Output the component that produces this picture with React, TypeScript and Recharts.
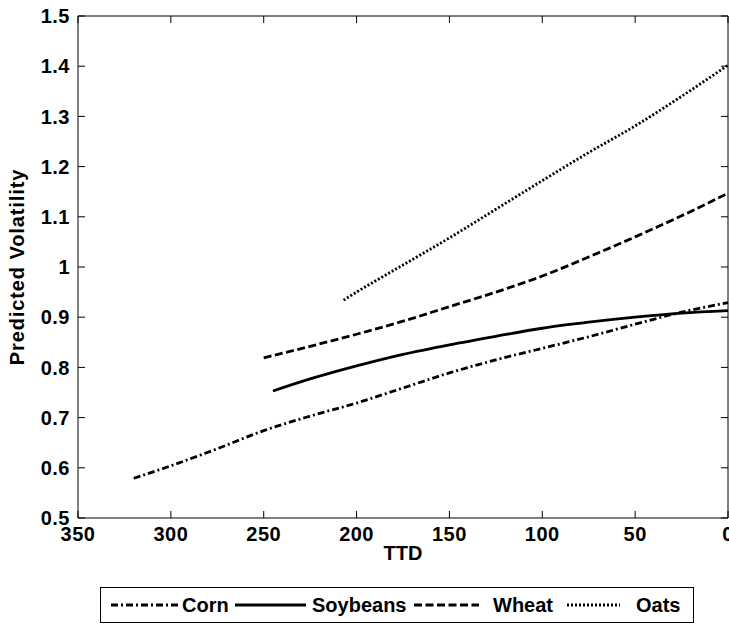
import { LineChart, Line, XAxis, YAxis, ReferenceLine } from 'recharts'

// values (TTD on x, predicted volatility on y)
const cornTTD = [320, 300, 275, 250, 225, 200, 175, 150, 125, 100, 75, 50, 25, 0]
const cornVol = [0.579, 0.604, 0.638, 0.674, 0.703, 0.729, 0.759, 0.789, 0.815, 0.838, 0.861, 0.886, 0.910, 0.929]

const soyTTD = [245, 225, 200, 175, 150, 125, 100, 75, 50, 25, 0]
const soyVol = [0.753, 0.777, 0.803, 0.826, 0.845, 0.862, 0.878, 0.890, 0.900, 0.908, 0.913]

const wheatTTD = [250, 225, 200, 175, 150, 125, 100, 75, 50, 25, 0]
const wheatVol = [0.819, 0.842, 0.866, 0.892, 0.921, 0.950, 0.982, 1.02, 1.06, 1.102, 1.147]

const oatsTTD = [207, 200, 175, 150, 125, 100, 75, 50, 25, 0]
const oatsVol = [0.934, 0.950, 1.004, 1.058, 1.115, 1.172, 1.228, 1.281, 1.340, 1.402]

const xTicks = [0, 50, 100, 150, 200, 250, 300, 350]
const yTicks = [0.5, 0.6, 0.7, 0.8, 0.9, 1, 1.1, 1.2, 1.3, 1.4, 1.5]

const X_MIN = 0
const X_MAX = 350
const Y_MIN = 0.5
const Y_MAX = 1.5
// inward tick length, in data units (about 7px on each axis)
const TICK_DX = 3.8
const TICK_DY = 0.014

const FONT = '"Liberation Sans", Arial, sans-serif'

function toRows(ttd: number[], vol: number[]) {
  return ttd.map((t, i) => ({ ttd: t, vol: vol[i] }))
}

const series = [
  { name: 'Corn', data: toRows(cornTTD, cornVol), dash: '7 3 2 3' },
  { name: 'Soybeans', data: toRows(soyTTD, soyVol), dash: undefined },
  { name: 'Wheat', data: toRows(wheatTTD, wheatVol), dash: '8 3.5' },
  { name: 'Oats', data: toRows(oatsTTD, oatsVol), dash: '2 2' },
]

const tickStyle = { fontSize: 20, fontWeight: 700, fill: '#000', fontFamily: FONT, letterSpacing: 0.5 }

function YLabel(props: any) {
  const vb = props.viewBox || { x: 0, y: 16, width: 78, height: 502 }
  const cy = vb.y + vb.height / 2
  return (
    <text
      x={24}
      y={cy}
      transform={`rotate(-90 24 ${cy})`}
      textAnchor="middle"
      fontSize={20}
      fontWeight={700}
      fontFamily={FONT}
      letterSpacing={0.9}
      fill="#000"
    >
      Predicted Volatility
    </text>
  )
}

function XLabel(props: any) {
  const vb = props.viewBox || { x: 78, y: 518, width: 650, height: 40 }
  return (
    <text
      x={vb.x + vb.width / 2}
      y={560}
      textAnchor="middle"
      fontSize={20}
      fontWeight={700}
      fontFamily={FONT}
      fill="#000"
    >
      TTD
    </text>
  )
}

// legend laid out like the boxed MATLAB legend under the axes
const legendItems = [
  { name: 'Corn', dash: '7 3 2 3', x1: 111, x2: 178, tx: 182 },
  { name: 'Soybeans', dash: undefined, x1: 235, x2: 306, tx: 312 },
  { name: 'Wheat', dash: '8 3.5', x1: 414, x2: 479, tx: 493 },
  { name: 'Oats', dash: '2 2', x1: 567, x2: 620, tx: 636 },
]

function LegendBox() {
  return (
    <svg width={729} height={624} style={{ position: 'absolute', left: 0, top: 0, pointerEvents: 'none' }}>
      <rect x={100.5} y={587.5} width={593} height={35} fill="#fff" stroke="#000" strokeWidth={1} />
      {legendItems.map(it => (
        <g key={it.name}>
          <line x1={it.x1} x2={it.x2} y1={605} y2={605} stroke="#000" strokeWidth={2.8} strokeDasharray={it.dash} />
          <text x={it.tx} y={612} fontSize={20} fontWeight={700} fontFamily={FONT} fill="#000">
            {it.name}
          </text>
        </g>
      ))}
    </svg>
  )
}

export default function App() {
  return (
    <div style={{ position: 'absolute', left: 0, top: 0, width: 729, height: 624, background: '#fff' }}>
      <LineChart width={729} height={624} margin={{ top: 16, right: 1, bottom: 66, left: 0 }}>
        <XAxis
          dataKey="ttd"
          type="number"
          domain={[X_MIN, X_MAX]}
          ticks={xTicks}
          interval={0}
          reversed
          height={40}
          tickLine={false}
          tickSize={0}
          tickMargin={9}
          tick={tickStyle}
          axisLine={{ stroke: '#000' }}
          label={<XLabel />}
        />
        <YAxis
          type="number"
          domain={[Y_MIN, Y_MAX]}
          ticks={yTicks}
          interval={0}
          width={78}
          tickLine={false}
          tickSize={0}
          tickMargin={8}
          tick={tickStyle}
          axisLine={{ stroke: '#000' }}
          label={<YLabel />}
        />
        {/* mirrored axes close the box on top and right */}
        <XAxis
          xAxisId="top"
          orientation="top"
          dataKey="ttd"
          type="number"
          domain={[X_MIN, X_MAX]}
          reversed
          mirror
          tick={false}
          tickLine={false}
          axisLine={{ stroke: '#000' }}
        />
        <YAxis
          yAxisId="right"
          orientation="right"
          type="number"
          domain={[Y_MIN, Y_MAX]}
          mirror
          tick={false}
          tickLine={false}
          axisLine={{ stroke: '#000' }}
        />
        {/* inward tick marks on all four sides */}
        {xTicks.map(t => (
          <ReferenceLine key={`xb${t}`} segment={[{ x: t, y: Y_MIN }, { x: t, y: Y_MIN + TICK_DY }]} stroke="#000" />
        ))}
        {xTicks.map(t => (
          <ReferenceLine key={`xt${t}`} segment={[{ x: t, y: Y_MAX }, { x: t, y: Y_MAX - TICK_DY }]} stroke="#000" />
        ))}
        {yTicks.map(v => (
          <ReferenceLine key={`yl${v}`} segment={[{ x: X_MAX, y: v }, { x: X_MAX - TICK_DX, y: v }]} stroke="#000" />
        ))}
        {yTicks.map(v => (
          <ReferenceLine key={`yr${v}`} segment={[{ x: X_MIN, y: v }, { x: X_MIN + TICK_DX, y: v }]} stroke="#000" />
        ))}
        {series.map(s => (
          <Line
            key={s.name}
            data={s.data}
            dataKey="vol"
            name={s.name}
            type="monotone"
            stroke="#000"
            strokeWidth={2.8}
            strokeDasharray={s.dash}
            dot={false}
            activeDot={false}
            isAnimationActive={false}
          />
        ))}
      </LineChart>
      <LegendBox />
    </div>
  )
}
